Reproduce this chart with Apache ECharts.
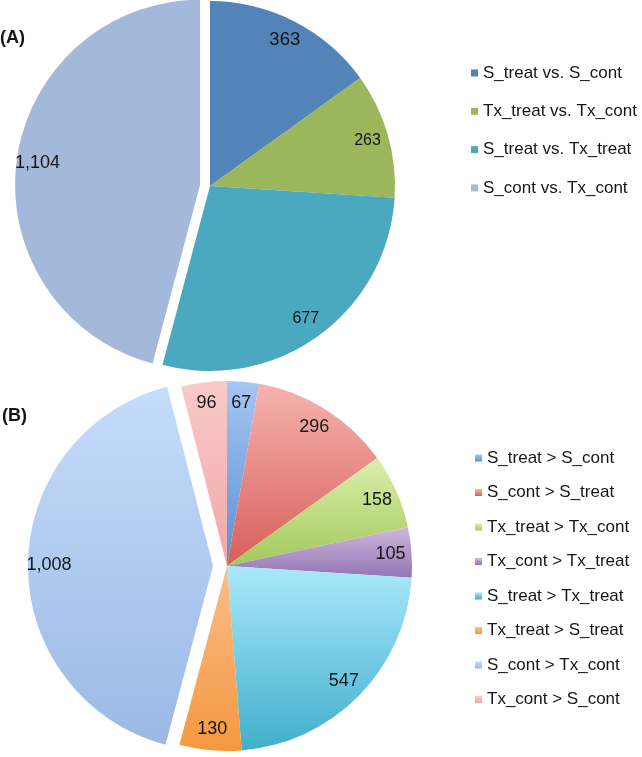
<!DOCTYPE html>
<html><head><meta charset="utf-8">
<script src="https://cdn.jsdelivr.net/npm/echarts@6/dist/echarts.min.js"></script>
<style>html,body{margin:0;padding:0;background:#fff}#c{width:642px;height:757px}</style>
</head><body><div id="c"></div>
<script>
// ---- data ----
const categoriesA = ['S_treat vs. S_cont', 'Tx_treat vs. Tx_cont', 'S_treat vs. Tx_treat', 'S_cont vs. Tx_cont'];
const valuesA = [363, 263, 677, 1104];
const explodedA = ['S_cont vs. Tx_cont'];

const categoriesB = ['S_treat > S_cont', 'S_cont > S_treat', 'Tx_treat > Tx_cont', 'Tx_cont > Tx_treat',
  'S_treat > Tx_treat', 'Tx_treat > S_treat', 'S_cont > Tx_cont', 'Tx_cont > S_cont'];
const valuesB = [67, 296, 158, 105, 547, 130, 1008, 96];
const explodedB = ['S_cont > Tx_cont'];

// ---- styles ----
const colorsA = ['#5384b9', '#9bb65b', '#4ba9bf', '#a4b9da'];
const labelSizeA = [18.5, 16, 16, 18];
const gradB = [
  ['#a6c6f3', '#5a8fd2'],
  ['#f6b3af', '#d85f59'],
  ['#dbf0ab', '#a3c85c'],
  ['#cdb8dc', '#9374b4'],
  ['#aae8fc', '#40afcb'],
  ['#fabd8a', '#f4983f'],
  ['#c5dcfb', '#9bb9e4'],
  ['#f8cac9', '#f1a7a6']
];
const R = 185;
const txt = '#151515';
const FF = 'Liberation Sans, Arial, sans-serif';

function grad(c) {
  return new echarts.graphic.LinearGradient(0, 0, 0, 1, [
    { offset: 0, color: c[0] }, { offset: 1, color: c[1] }
  ]);
}
const fmt = v => v.toLocaleString('en-US');

function buildData(cats, vals, exploded, colorFn) {
  return cats.map((n, i) => ({
    name: n, value: vals[i], selected: exploded.indexOf(n) >= 0,
    itemStyle: { color: colorFn(i) }
  }));
}
function buildLabelData(cats, vals, exploded, sizeFn) {
  return cats.map((n, i) => ({
    name: n, value: vals[i], selected: exploded.indexOf(n) >= 0,
    label: { fontSize: sizeFn(i) }
  }));
}

function mainSeries(center, data, offset) {
  return {
    type: 'pie', center: center, radius: [0, R], startAngle: 90, clockwise: true,
    selectedMode: 'multiple', selectedOffset: offset, avoidLabelOverlap: false,
    label: { show: false }, labelLine: { show: false },
    itemStyle: { borderWidth: 0 },
    emphasis: { disabled: true }, select: { itemStyle: { borderWidth: 0 } },
    animation: false, silent: true, data: data
  };
}
function labelSeries(center, data, offset) {
  return {
    type: 'pie', center: center, radius: [R * 0.74, R], startAngle: 90, clockwise: true,
    selectedMode: 'multiple', selectedOffset: offset, avoidLabelOverlap: false,
    itemStyle: { color: 'rgba(0,0,0,0)', borderWidth: 0 },
    label: { show: true, position: 'inside', color: txt, fontFamily: FF,
      formatter: p => fmt(p.value) },
    labelLine: { show: false },
    emphasis: { disabled: true },
    animation: false, silent: true, data: data
  };
}

const chart = echarts.init(document.getElementById('c'), null, { renderer: 'canvas' });
const legendText = { color: txt, fontSize: 17, lineHeight: 17, fontFamily: FF };
chart.setOption({
  backgroundColor: '#fff',
  title: [
    { text: '(A)', left: 0, top: 29, padding: 0, textStyle: { fontSize: 18, fontWeight: 'bold', color: txt, fontFamily: FF } },
    { text: '(B)', left: 2, top: 407, padding: 0, textStyle: { fontSize: 18, fontWeight: 'bold', color: txt, fontFamily: FF } }
  ],
  legend: [
    { data: categoriesA, orient: 'vertical', left: 466, top: 59.5, icon: 'rect', padding: 5,
      itemWidth: 7, itemHeight: 7, itemGap: 21.3, selectedMode: false, textStyle: legendText },
    { data: categoriesB, orient: 'vertical', left: 470, top: 444.5, icon: 'rect', padding: 5,
      itemWidth: 7, itemHeight: 7, itemGap: 17.5, selectedMode: false, textStyle: legendText }
  ],
  series: [
    mainSeries([210, 186], buildData(categoriesA, valuesA, explodedA, i => colorsA[i]), 10),
    mainSeries([227, 566], buildData(categoriesB, valuesB, explodedB, i => grad(gradB[i])), 14),
    labelSeries([210, 186], buildLabelData(categoriesA, valuesA, explodedA, i => labelSizeA[i]), 10),
    labelSeries([227, 566], buildLabelData(categoriesB, valuesB, explodedB, () => 18), 14)
  ]
});
</script></body></html>
